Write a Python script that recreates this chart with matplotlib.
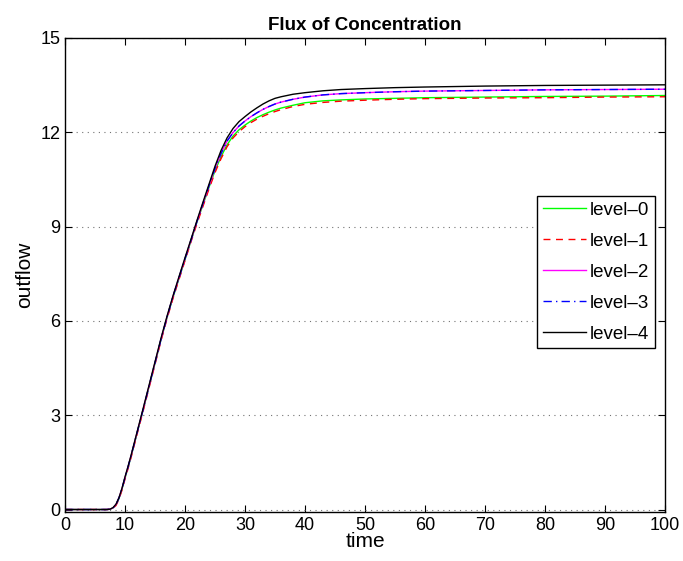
import numpy as np
import matplotlib.pyplot as plt

plt.rcParams['font.family'] = ['Liberation Sans', 'DejaVu Sans']

# muestras de tiempo (comunes a todos los niveles)
tiempo = [0, 7, 7.5, 8, 8.5, 9, 9.5, 10, 10.5, 11,
          12, 13, 14, 15, 16, 17, 18, 19, 20, 21, 22, 23, 24, 25, 26, 27, 28,
          29, 30, 31, 32, 33, 34, 35, 36,
          38, 40, 43, 46, 50, 55, 60, 70, 80, 90, 100]

# flujo de salida por nivel de refinamiento
nivel_0 = [0, 0, 0.01, 0.05, 0.15, 0.35, 0.65, 1.0, 1.33, 1.68,
           2.42, 3.15, 3.9, 4.65, 5.4, 6.1, 6.75, 7.35, 7.95, 8.55, 9.15, 9.7,
           10.25, 10.78, 11.22, 11.6, 11.88, 12.08, 12.23, 12.36, 12.47, 12.56,
           12.64, 12.71, 12.77,
           12.86, 12.94, 13.0, 13.03, 13.06, 13.08, 13.1, 13.12, 13.14, 13.15, 13.17]
nivel_1 = [0, 0, 0.01, 0.04, 0.13, 0.33, 0.62, 0.97, 1.3, 1.65,
           2.39, 3.12, 3.87, 4.62, 5.37, 6.07, 6.72, 7.32, 7.92, 8.52, 9.1, 9.65,
           10.2, 10.72, 11.16, 11.54, 11.82, 12.02, 12.18, 12.31, 12.42, 12.51,
           12.59, 12.66, 12.72,
           12.82, 12.89, 12.95, 12.99, 13.02, 13.05, 13.07, 13.09, 13.1, 13.12, 13.13]
nivel_2 = [0, 0, 0.01, 0.05, 0.16, 0.37, 0.67, 1.02, 1.35, 1.7,
           2.44, 3.17, 3.92, 4.67, 5.42, 6.12, 6.78, 7.38, 7.98, 8.57, 9.17, 9.74,
           10.3, 10.85, 11.32, 11.72, 11.99, 12.2, 12.36, 12.5, 12.62, 12.73,
           12.82, 12.9, 12.96,
           13.05, 13.12, 13.19, 13.23, 13.26, 13.29, 13.31, 13.33, 13.35, 13.36, 13.37]
nivel_3 = list(nivel_2)
nivel_4 = [0, 0, 0.01, 0.06, 0.17, 0.38, 0.68, 1.04, 1.37, 1.72,
           2.46, 3.2, 3.95, 4.7, 5.45, 6.15, 6.8, 7.41, 8.01, 8.6, 9.2, 9.78,
           10.35, 10.92, 11.42, 11.82, 12.12, 12.34, 12.5, 12.65, 12.78, 12.9,
           13.0, 13.08, 13.13,
           13.21, 13.26, 13.32, 13.36, 13.39, 13.42, 13.44, 13.47, 13.49, 13.5, 13.51]

etiquetas = ['level\u20130', 'level\u20131', 'level\u20132', 'level\u20133', 'level\u20134']
ticks_x = np.arange(0, 101, 10)
ticks_y = np.arange(0, 16, 3)

fig = plt.figure(figsize=(6.83, 5.61), dpi=100)
ax = fig.add_axes([0.0952, 0.0873, 0.8785, 0.845])

ax.plot(tiempo, nivel_0, color=(0, 1, 0), lw=1.0, ls='-', label=etiquetas[0])
ax.plot(tiempo, nivel_1, color=(1, 0, 0), lw=1.0, ls=(0, (5, 4)), label=etiquetas[1])
ax.plot(tiempo, nivel_2, color=(1, 0, 1), lw=1.0, ls='-', label=etiquetas[2])
ax.plot(tiempo, nivel_3, color=(0, 0, 1), lw=1.0, ls=(0, (6, 3, 1, 3)), label=etiquetas[3])
ax.plot(tiempo, nivel_4, color='k', lw=1.0, ls='-', label=etiquetas[4])

ax.set_xlim(0, 100)
ax.set_ylim(-0.08, 15)
ax.set_xticks(ticks_x)
ax.set_yticks(ticks_y)
ax.tick_params(direction='in', top=True, right=True, length=5, labelsize=13, width=0.8)
ax.yaxis.grid(True, ls=(0, (1, 4)), color='0.45', lw=0.8)
for s in ax.spines.values():
    s.set_linewidth(1.0)

ax.set_title("Flux of Concentration", fontsize=13.5, fontweight='bold', pad=6)
ax.set_xlabel("time", fontsize=15, labelpad=-1)
ax.set_ylabel("outflow", fontsize=15, labelpad=4)

leg = ax.legend(loc='upper left', bbox_to_anchor=(0.787, 0.667), fontsize=13.5,
                fancybox=False, framealpha=1, edgecolor='k', handlelength=2.3,
                borderaxespad=0, labelspacing=0.74, handletextpad=0.2,
                borderpad=0.3)
leg.get_frame().set_linewidth(1.0)

plt.savefig('out.png', dpi=100)
